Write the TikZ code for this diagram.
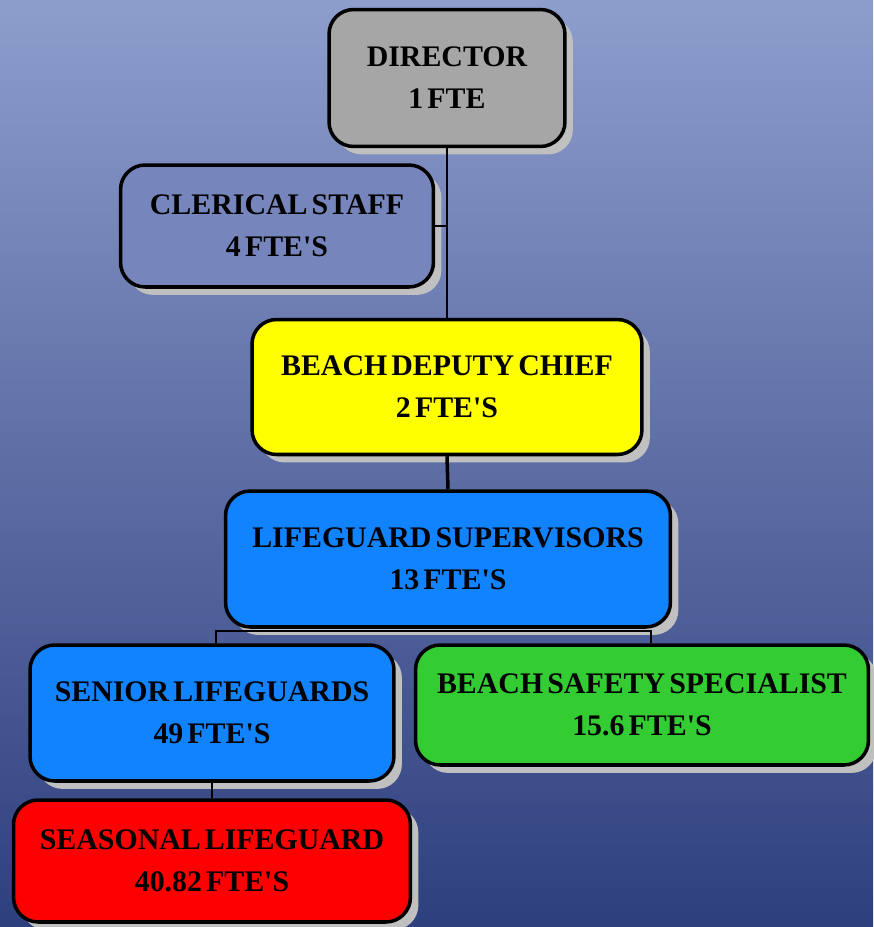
\documentclass[tikz,border=0pt]{standalone}
\usepackage{fontspec}
\setmainfont{Liberation Serif}[WordSpace=0.55]
\usetikzlibrary{shadows}
\definecolor{bgtop}{HTML}{8D9DCC}
\definecolor{bgbot}{HTML}{2E3F7E}
\definecolor{clerbg}{HTML}{7686BC}
\definecolor{dirgray}{HTML}{A6A6A6}
\definecolor{depyellow}{HTML}{FFFF00}
\definecolor{supblue}{HTML}{1283FF}
\definecolor{specgreen}{HTML}{33CC33}
\definecolor{shadowgray}{HTML}{C0C0C0}
\newcommand{\ftes}{FTE\textquotesingle S}
\tikzset{>=stealth,
  box/.style={draw, line width=2pt, rounded corners=14pt, align=center,
    inner sep=0pt, font=\fontsize{17}{24}\selectfont\bfseries,
    general shadow={fill=shadowgray, shadow xshift=4.5pt, shadow yshift=-4.5pt}},
  link/.style={line width=1pt},
}

\begin{document}
\begin{tikzpicture}[x=0.02cm, y=-0.02cm]
\useasboundingbox (0,0) rectangle (873,927);
\shade[top color=bgtop, bottom color=bgbot] (0,0) rectangle (873,927);
% boxes
\node[box, fill=dirgray, minimum width=4.72cm, minimum height=2.74cm] (dir) at (447,78) {DIRECTOR\\1 FTE};
\node[box, fill=clerbg, minimum width=6.26cm, minimum height=2.44cm] (cler) at (277,226) {CLERICAL STAFF\\4 \ftes};
\node[box, fill=depyellow, minimum width=7.8cm, minimum height=2.7cm] (dep) at (447,387) {BEACH DEPUTY CHIEF\\2 \ftes};
\node[box, fill=supblue, minimum width=8.9cm, minimum height=2.72cm] (sup) at (448,559) {LIFEGUARD SUPERVISORS\\13 \ftes};
\node[box, fill=supblue, minimum width=7.28cm, minimum height=2.72cm] (sen) at (212,713) {SENIOR LIFEGUARDS\\49 \ftes};
\node[box, fill=specgreen, minimum width=9.06cm, minimum height=2.4cm] (spec) at (642,705) {BEACH SAFETY SPECIALIST\\15.6 \ftes};
\node[box, fill=red, minimum width=7.94cm, minimum height=2.44cm] (seas) at (212,861) {SEASONAL LIFEGUARD\\40.82 \ftes};
% links
\draw[link] (dir.south) -- (dep.north);
\draw[link] (cler.east) -- (cler.east -| dir.south);
\draw[line width=2pt] (dep.south) -- (sup.north);
\coordinate (brkL) at (216,631);
\coordinate (brkR) at (651,631);
\draw[link] (brkL |- sen.north) -- (brkL) -- (brkR) -- (brkR |- spec.north);
\draw[link] (sen.south) -- (seas.north);
\end{tikzpicture}
\end{document}
